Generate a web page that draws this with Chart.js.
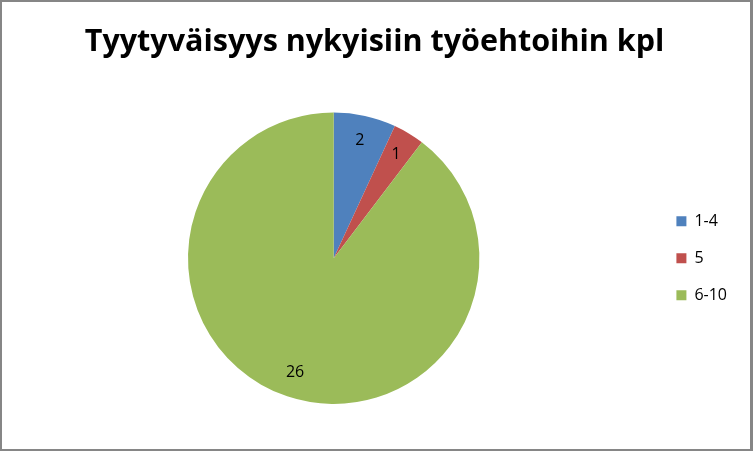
<!DOCTYPE html>
<html>
<head>
<meta charset="utf-8">
<script src="https://cdn.jsdelivr.net/npm/chart.js@4.4.0/dist/chart.umd.min.js"></script>
<style>
  html, body { margin: 0; padding: 0; background: #fff; }
  #wrap {
    width: 753px; height: 451px; box-sizing: border-box;
    border: 2px solid #868686; border-right-width: 3px; border-bottom-width: 2px;
    background: #fff;
  }
  #myChartPie { display: block; }
</style>
</head>
<body>
<div id="wrap"><canvas id="myChartPie" width="748" height="447"></canvas></div>
<script>
var titleText = 'Tyytyväisyys nykyisiin työehtoihin kpl';
var labels = ['1-4', '5', '6-10'];
var counts = [2, 1, 26];
var colors = ['#4F81BD', '#C0504D', '#9BBB59'];

// numbers inside the slices
var sliceLabels = {
  id: 'sliceLabels',
  afterDatasetsDraw: function (chart) {
    var ctx = chart.ctx;
    var meta = chart.getDatasetMeta(0);
    ctx.save();
    ctx.font = '16px "Open Sans", sans-serif';
    ctx.fillStyle = '#000';
    ctx.textAlign = 'center';
    ctx.textBaseline = 'middle';
    meta.data.forEach(function (arc, i) {
      var mid = (arc.startAngle + arc.endAngle) / 2;
      var r = arc.outerRadius * 0.83;
      ctx.fillText(counts[i], arc.x + Math.cos(mid) * r, arc.y + Math.sin(mid) * r);
    });
    ctx.restore();
  }
};

function chartPrint(targetId) {
  var ctx = document.getElementById(targetId);
  new Chart(ctx, {
    type: 'pie',
    data: {
      labels: labels,
      datasets: [{
        data: counts,
        backgroundColor: colors,
        borderWidth: 0
      }]
    },
    options: {
      responsive: false,
      animation: false,
      layout: { padding: { left: 10, right: 13, top: 0, bottom: 45 } },
      plugins: {
        title: {
          display: true,
          text: titleText,
          color: '#000',
          font: { family: '"Open Sans", sans-serif', size: 30.5, weight: 'bold' },
          padding: { top: 22, bottom: 52 }
        },
        legend: {
          position: 'right',
          align: 'center',
          fullSize: false,
          labels: {
            boxWidth: 10,
            boxHeight: 10,
            padding: 21,
            color: '#000',
            font: { family: '"Open Sans", sans-serif', size: 16 }
          }
        },
        tooltip: { enabled: false }
      }
    },
    plugins: [sliceLabels]
  });
}

chartPrint('myChartPie');
</script>
</body>
</html>
